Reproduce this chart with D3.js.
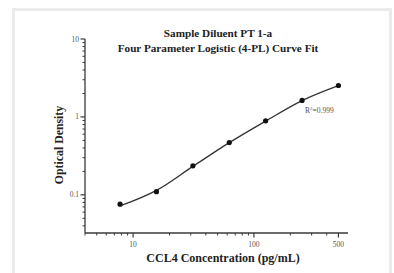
<!DOCTYPE html>
<html>
<head>
<meta charset="utf-8">
<script src="https://cdn.jsdelivr.net/npm/d3@7"></script>
<style>
  html, body { margin: 0; padding: 0; background: #fff; }
  svg { display: block; }
</style>
</head>
<body>
<div id="chart"></div>
<script>
// standard curve points (CCL4 pg/mL vs OD)
const concentrations = [7.8, 15.6, 31.25, 62.5, 125, 250, 500];
const odValues = [0.076, 0.110, 0.236, 0.469, 0.89, 1.63, 2.53];
// fitted 4-PL curve at the same concentrations
const fitValues = [0.072, 0.114, 0.232, 0.468, 0.885, 1.62, 2.52];

const xMajorTicks = [10, 100, 500];
const xMinorTicks = [4, 5, 6, 7, 8, 9, 20, 30, 40, 50, 60, 70, 80, 90, 200, 300, 400];
const yMajorTicks = [0.1, 1, 10];
const yMinorTicks = [0.04, 0.05, 0.06, 0.07, 0.08, 0.09, 0.2, 0.3, 0.4, 0.5, 0.6, 0.7, 0.8, 0.9, 2, 3, 4, 5, 6, 7, 8, 9];

const titleLines = ["Sample Diluent PT 1-a", "Four Parameter Logistic (4-PL) Curve Fit"];

const W = 394, H = 273;
const svg = d3.select("#chart").append("svg").attr("width", W).attr("height", H);

// light frame around the picture
svg.append("path")
    .attr("d", "M13.5,273 V9.5 H390.5 V273")
    .attr("fill", "none").attr("stroke", "#ebebeb").attr("stroke-width", 3);

const x = d3.scaleLog().domain([4, 600]).range([85, 348]);
const y = d3.scaleLog().domain([0.0324, 10]).range([233, 39]);

const serif = "'Liberation Serif', 'DejaVu Serif', serif";
const axisColor = "#3a3a3a";

// x axis
const gx = svg.append("g").attr("transform", "translate(0,233)");
gx.append("line").attr("x1", 85).attr("x2", 348).attr("stroke", axisColor).attr("stroke-width", 1.3);
gx.selectAll(".minor").data(xMinorTicks).join("line")
    .attr("x1", d => x(d)).attr("x2", d => x(d)).attr("y1", 0).attr("y2", 2.5)
    .attr("stroke", axisColor).attr("stroke-width", 1);
gx.selectAll(".major").data(xMajorTicks).join("line")
    .attr("x1", d => x(d)).attr("x2", d => x(d)).attr("y1", 0).attr("y2", 4.5)
    .attr("stroke", axisColor).attr("stroke-width", 1.2);
gx.selectAll("text").data(xMajorTicks).join("text")
    .attr("x", d => x(d)).attr("y", 14)
    .attr("text-anchor", "middle")
    .attr("font-family", serif).attr("font-size", 7.5).attr("fill", "#555")
    .text(d => d);

// y axis
const gy = svg.append("g").attr("transform", "translate(85,0)");
gy.append("line").attr("y1", 39).attr("y2", 233).attr("stroke", axisColor).attr("stroke-width", 1.3);
gy.selectAll(".minor").data(yMinorTicks).join("line")
    .attr("y1", d => y(d)).attr("y2", d => y(d)).attr("x1", 0).attr("x2", -2.5)
    .attr("stroke", axisColor).attr("stroke-width", 1);
gy.selectAll(".major").data(yMajorTicks).join("line")
    .attr("y1", d => y(d)).attr("y2", d => y(d)).attr("x1", 0).attr("x2", -4.5)
    .attr("stroke", axisColor).attr("stroke-width", 1.2);
gy.selectAll("text").data(yMajorTicks).join("text")
    .attr("x", -6).attr("y", d => y(d) + 2.5)
    .attr("text-anchor", "end")
    .attr("font-family", serif).attr("font-size", 7.5).attr("fill", "#555")
    .text(d => d);

// fitted curve
const pts = concentrations.map((c, i) => [c, fitValues[i]]);
svg.append("path")
    .datum(pts)
    .attr("d", d3.line().x(d => x(d[0])).y(d => y(d[1])).curve(d3.curveMonotoneX))
    .attr("fill", "none").attr("stroke", "#333").attr("stroke-width", 1.3);

// points
svg.selectAll("circle").data(concentrations).join("circle")
    .attr("cx", d => x(d)).attr("cy", (d, i) => y(odValues[i]))
    .attr("r", 2.6).attr("fill", "#111");

// R squared
const r2 = svg.append("text")
    .attr("x", x(250) + 3).attr("y", y(1.63) + 13)
    .attr("font-family", serif).attr("font-size", 7.5).attr("fill", "#555");
r2.append("tspan").text("R");
r2.append("tspan").attr("dy", -3).attr("font-size", 5).text("2");
r2.append("tspan").attr("dy", 3).text("=0.999");

// titles
svg.selectAll(".title").data(titleLines).join("text")
    .attr("x", 218).attr("y", (d, i) => 37 + i * 15)
    .attr("text-anchor", "middle")
    .attr("font-family", serif).attr("font-weight", "bold").attr("font-size", 11.2)
    .attr("fill", "#222")
    .text(d => d);

svg.append("text")
    .attr("x", 223).attr("y", 262)
    .attr("text-anchor", "middle")
    .attr("font-family", serif).attr("font-weight", "bold").attr("font-size", 12)
    .attr("fill", "#222")
    .text("CCL4 Concentration (pg/mL)");

svg.append("text")
    .attr("transform", "translate(63,145) rotate(-90)")
    .attr("text-anchor", "middle")
    .attr("font-family", serif).attr("font-weight", "bold").attr("font-size", 11.8)
    .attr("fill", "#222")
    .text("Optical Density");
</script>
</body>
</html>
